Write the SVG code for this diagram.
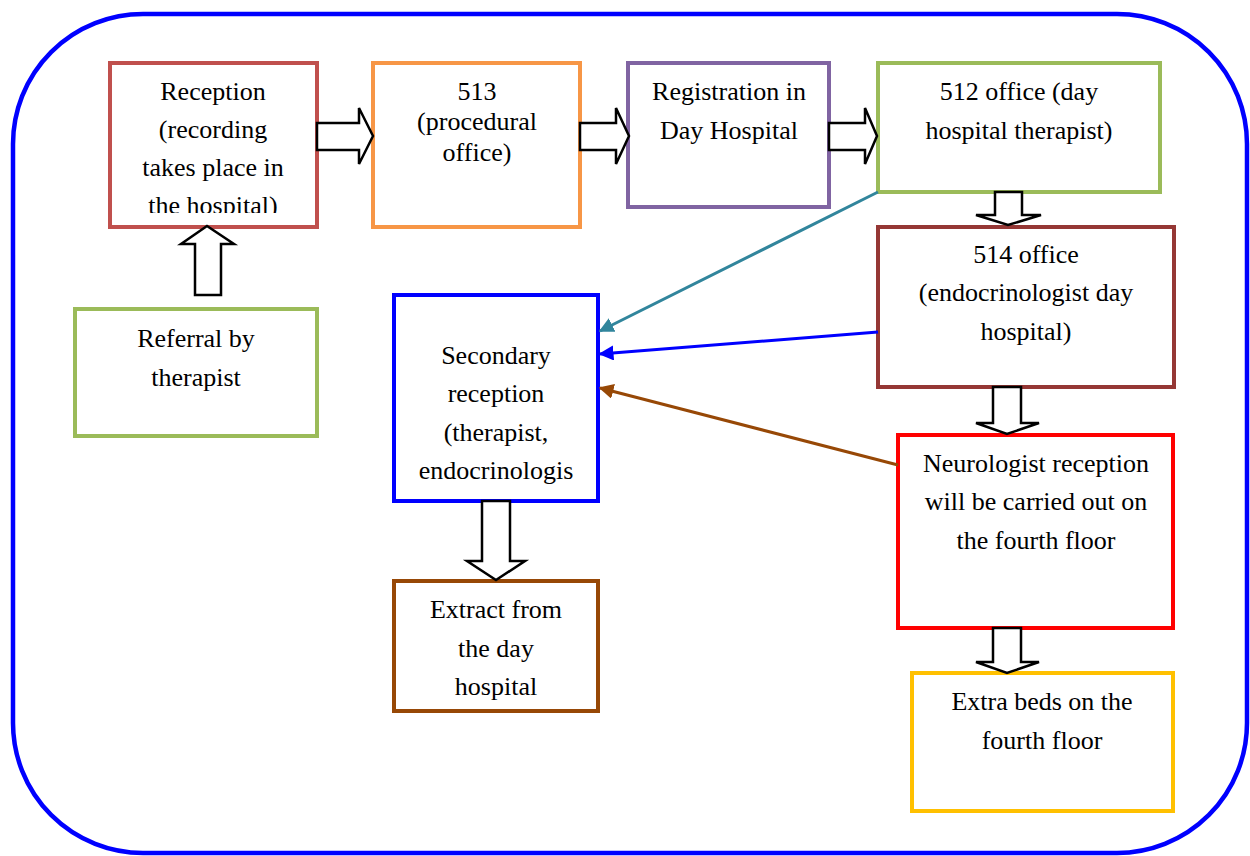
<svg xmlns="http://www.w3.org/2000/svg" width="1250" height="856" viewBox="0 0 1250 856">
<style>
.t{font-family:"Liberation Serif","Times New Roman",serif;font-size:26px;fill:#000;text-anchor:middle}
.box{fill:#fff;stroke-width:4}
.blk{fill:#fff;stroke:#000;stroke-width:2.5;stroke-linejoin:miter}
.ln{fill:none;stroke-width:3}
</style>
<defs>
<marker id="mT" viewBox="0 0 10 10" refX="9" refY="5" markerWidth="5" markerHeight="5" orient="auto" markerUnits="strokeWidth"><path d="M0,0L10,5L0,10z" fill="#31859C"/></marker>
<marker id="mB" viewBox="0 0 10 10" refX="9" refY="5" markerWidth="5" markerHeight="5" orient="auto" markerUnits="strokeWidth"><path d="M0,0L10,5L0,10z" fill="#0000FF"/></marker>
<marker id="mBr" viewBox="0 0 10 10" refX="9" refY="5" markerWidth="5" markerHeight="5" orient="auto" markerUnits="strokeWidth"><path d="M0,0L10,5L0,10z" fill="#974806"/></marker>
<clipPath id="c1"><rect x="110" y="63" width="207" height="150"/></clipPath>
</defs>
<rect id="frame" x="13" y="14" width="1234" height="839" rx="130" ry="130" fill="#fff" stroke="#0000FF" stroke-width="4.5"/>

<g id="reception">
<rect class="box" x="110" y="63" width="207" height="164" stroke="#C0504D"/>
<g clip-path="url(#c1)">
<text class="t" x="213" y="100">Reception</text>
<text class="t" x="213" y="138">(recording</text>
<text class="t" x="213" y="176">takes place in</text>
<text class="t" x="213" y="214">the hospital)</text>
</g>
</g>
<g id="n513">
<rect class="box" x="373" y="63" width="207" height="164" stroke="#F79646"/>
<text class="t" x="477" y="100">513</text>
<text class="t" x="477" y="130">(procedural</text>
<text class="t" x="477" y="161">office)</text>
</g>
<g id="registration">
<rect class="box" x="628" y="63" width="201" height="144" stroke="#8064A2"/>
<text class="t" x="729" y="100">Registration in</text>
<text class="t" x="729" y="139">Day Hospital</text>
</g>
<g id="n512">
<rect class="box" x="878" y="63" width="282" height="129" stroke="#9BBB59"/>
<text class="t" x="1019" y="100">512 office (day</text>
<text class="t" x="1019" y="139">hospital therapist)</text>
</g>
<g id="n514">
<rect class="box" x="878" y="227" width="296" height="160" stroke="#953735"/>
<text class="t" x="1026" y="263">514 office</text>
<text class="t" x="1026" y="301">(endocrinologist day</text>
<text class="t" x="1026" y="340">hospital)</text>
</g>
<g id="referral">
<rect class="box" x="75" y="309" width="242" height="127" stroke="#9BBB59"/>
<text class="t" x="196" y="347">Referral by</text>
<text class="t" x="196" y="386">therapist</text>
</g>
<g id="secondary">
<rect class="box" x="394" y="295" width="204" height="206" stroke="#0000FF"/>
<text class="t" x="496" y="364">Secondary</text>
<text class="t" x="496" y="402">reception</text>
<text class="t" x="496" y="441">(therapist,</text>
<text class="t" x="496" y="479">endocrinologis</text>
</g>
<g id="neurologist">
<rect class="box" x="898" y="435" width="275" height="193" stroke="#FF0000"/>
<text class="t" x="1036" y="472">Neurologist reception</text>
<text class="t" x="1036" y="510">will be carried out on</text>
<text class="t" x="1036" y="549">the fourth floor</text>
</g>
<g id="extract">
<rect class="box" x="394" y="581" width="204" height="130" stroke="#974806"/>
<text class="t" x="496" y="618">Extract from</text>
<text class="t" x="496" y="657">the day</text>
<text class="t" x="496" y="695">hospital</text>
</g>
<g id="extrabeds">
<rect class="box" x="912" y="673" width="261" height="138" stroke="#FFC000"/>
<text class="t" x="1042" y="710">Extra beds on the</text>
<text class="t" x="1042" y="749">fourth floor</text>
</g>

<g id="connectors">
<path class="blk" d="M317,123H359V108L373,136L359,164V150H317Z"/>
<path class="blk" d="M580,123H616V108L629,136L616,164V150H580Z"/>
<path class="blk" d="M829,123H865V108L877,136L865,164V150H829Z"/>
<path class="blk" d="M195,295V244H181L207,226L234,244H221V295Z"/>
<path class="blk" d="M995,192V215H976L1008,225L1041,215H1022V192Z"/>
<path class="blk" d="M993,387V423H976L1007,434L1039,423H1021V387Z"/>
<path class="blk" d="M993,628V662H976L1007,673L1039,662H1021V628Z"/>
<path class="blk" d="M482,501V561H467L496,580L525,561H510V501Z"/>
<line class="ln" x1="878" y1="192" x2="600" y2="331" stroke="#31859C" marker-end="url(#mT)"/>
<line class="ln" x1="878" y1="332" x2="600" y2="354" stroke="#0000FF" marker-end="url(#mB)"/>
<line class="ln" x1="898" y1="465" x2="600" y2="388" stroke="#974806" marker-end="url(#mBr)"/>
</g>
</svg>
